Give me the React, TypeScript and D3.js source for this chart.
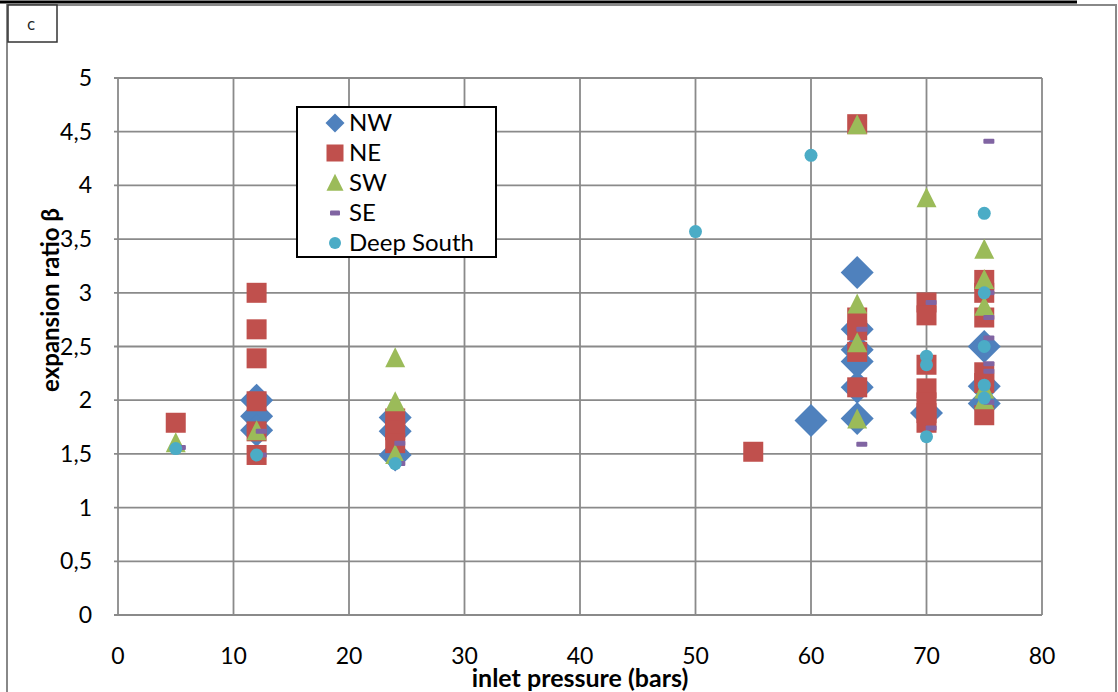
import React from 'react';
import * as d3 from 'd3';

// [inlet pressure, expansion ratio]
const nw = [
  [12, 2.0], [12, 1.85], [12, 1.72], [24, 1.84], [24, 1.71], [24, 1.49], [60, 1.81],
  [64, 3.19], [64, 2.66], [64, 2.47], [64, 2.36], [64, 2.12], [64, 1.83], [70, 1.88],
  [75, 2.5], [75, 2.13], [75, 1.97],
];
const ne = [
  [5, 1.79], [12, 3.0], [12, 2.66], [12, 2.39], [12, 1.99], [12, 1.71], [12, 1.49],
  [24, 1.83], [24, 1.72], [24, 1.6], [55, 1.52], [64, 4.57], [64, 2.77], [64, 2.65],
  [64, 2.45], [64, 2.12], [70, 2.91], [70, 2.79], [70, 2.33], [70, 2.11], [70, 1.98],
  [70, 1.88], [70, 1.79], [75, 3.12], [75, 3.0], [75, 2.77], [75, 2.26], [75, 2.16], [75, 1.86],
];
const sw = [
  [5, 1.6], [12, 1.71], [24, 2.39], [24, 1.98], [24, 1.49], [64, 4.56], [64, 2.89],
  [64, 2.53], [64, 1.82], [70, 3.88], [75, 3.4], [75, 3.12], [75, 2.87], [75, 2.1], [75, 2.0],
];
const se = [
  [5.4, 1.56], [12.4, 1.71], [12.4, 1.49], [24.4, 1.6], [24.4, 1.41], [64.4, 2.66],
  [64.4, 1.59], [70.4, 2.91], [70.4, 1.74], [75.4, 4.41], [75.4, 3.0], [75.4, 2.77],
  [75.4, 2.58], [75.4, 2.34], [75.4, 2.27], [75.4, 1.98],
];
const deepSouth = [
  [5, 1.55], [12, 1.49], [24, 1.41], [50, 3.57], [60, 4.28], [70, 2.41], [70, 2.33],
  [70, 1.66], [75, 3.74], [75, 3.0], [75, 2.5], [75, 2.14], [75, 2.02],
];

const xTicks = [0, 10, 20, 30, 40, 50, 60, 70, 80];
const yTicks = [0, 0.5, 1, 1.5, 2, 2.5, 3, 3.5, 4, 4.5, 5];
const seriesNames = ['NW', 'NE', 'SW', 'SE', 'Deep South'];

const colors: Record<string, string> = {
  NW: '#4f81bd',
  NE: '#c0504d',
  SW: '#9bbb59',
  SE: '#8064a2',
  'Deep South': '#4bacc6',
};

const font = 'Lato, Calibri, sans-serif';

// marker half-sizes: plot vs legend
const plotSize: Record<string, number> = { NW: 16.5, NE: 10, SW: 10, SE: 5.5, 'Deep South': 6.5 };
const legendSize: Record<string, number> = { NW: 9.5, NE: 8.5, SW: 8.5, SE: 5, 'Deep South': 6 };

function Marker({ kind, x, y, h }: { kind: string; x: number; y: number; h: number }) {
  const c = colors[kind];
  if (kind === 'NW') {
    return <path d={`M${x},${y - h}L${x + h},${y}L${x},${y + h}L${x - h},${y}Z`} fill={c} />;
  }
  if (kind === 'NE') {
    return <rect x={x - h} y={y - h} width={2 * h} height={2 * h} fill={c} />;
  }
  if (kind === 'SW') {
    return <path d={`M${x},${y - 1.1 * h}L${x + h},${y + 0.9 * h}L${x - h},${y + 0.9 * h}Z`} fill={c} />;
  }
  if (kind === 'SE') {
    return <rect x={x - h} y={y - 2.5} width={2 * h} height={5} rx={1} fill={c} />;
  }
  return <circle cx={x} cy={y} r={h} fill={c} />;
}

export default function App() {
  const x = d3.scaleLinear().domain([0, 80]).range([118, 1042]);
  const y = d3.scaleLinear().domain([0, 5]).range([615, 78]);
  const grid = '#8a8a8a';

  const data: [string, number[][]][] = [
    ['NW', nw],
    ['NE', ne],
    ['SW', sw],
    ['SE', se],
    ['Deep South', deepSouth],
  ];

  return (
    <svg
      width={1118}
      height={692}
      style={{ position: 'absolute', left: 0, top: 0, background: '#fff' }}
      fontFamily={font}
    >
      <rect x={0} y={0} width={1118} height={692} fill="#fff" />
      <line x1={0} x2={1077} y1={2} y2={2} stroke="#000" strokeWidth={3} />
      <path d="M7,700V5H1116V700" fill="none" stroke="#888" strokeWidth={2} />
      <rect x={8} y={5} width={49} height={37} fill="#fff" stroke="#333" strokeWidth={1.5} />
      <text x={31} y={30} fontSize={15} textAnchor="middle" fontFamily="'Liberation Sans Narrow', 'DejaVu Sans', sans-serif" fill="#222">
        c
      </text>

      {yTicks.map((t) => (
        <g key={'y' + t}>
          <line x1={114} x2={x(80)} y1={y(t)} y2={y(t)} stroke={grid} strokeWidth={1.8} />
          <text x={92} y={y(t)} dy="0.35em" textAnchor="end" fontSize={23} fill="#000">
            {String(t).replace('.', ',')}
          </text>
        </g>
      ))}
      {xTicks.map((t) => (
        <g key={'x' + t}>
          <line x1={x(t)} x2={x(t)} y1={y(5)} y2={y(0)} stroke={grid} strokeWidth={1.8} />
          <text x={x(t)} y={664} textAnchor="middle" fontSize={23} fill="#000">
            {t}
          </text>
        </g>
      ))}

      {data.map(([name, pts]) => (
        <g key={name}>
          {pts.map((p, i) => (
            <Marker key={i} kind={name} x={x(p[0])} y={y(p[1])} h={plotSize[name]} />
          ))}
        </g>
      ))}

      <rect x={297} y={107} width={199} height={150} fill="#fff" stroke="#000" strokeWidth={2} />
      {seriesNames.map((n, i) => (
        <g key={n}>
          <Marker kind={n} x={335} y={123 + i * 30} h={legendSize[n]} />
          <text x={349} y={123 + i * 30} dy="0.35em" fontSize={24} fill="#000">
            {n}
          </text>
        </g>
      ))}

      <text x={580} y={687} textAnchor="middle" fontSize={25} fontWeight="bold" fill="#000">
        inlet pressure (bars)
      </text>
      <text
        transform="translate(59,300) rotate(-90)"
        textAnchor="middle"
        fontSize={24}
        fontWeight="bold"
        fill="#000"
      >
        expansion ratio β
      </text>
    </svg>
  );
}
